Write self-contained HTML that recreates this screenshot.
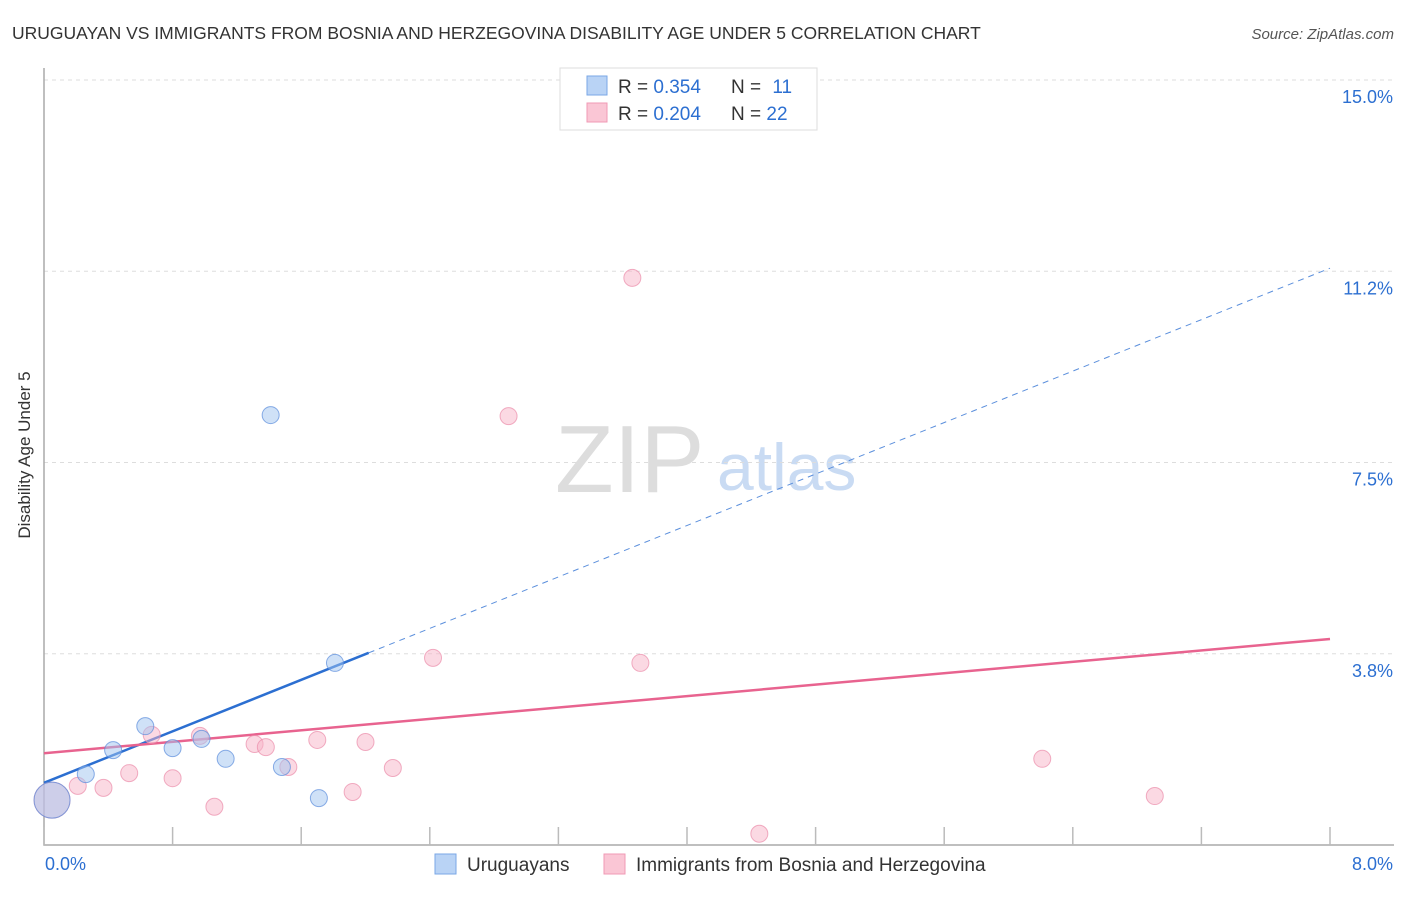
<!DOCTYPE html>
<html><head><meta charset="utf-8"><style>
body{margin:0;background:#fff;font-family:"Liberation Sans",sans-serif;}
svg text{font-family:"Liberation Sans",sans-serif;}
</style></head><body>
<svg width="1406" height="892" xmlns="http://www.w3.org/2000/svg">
<text x="12" y="39" font-size="17.5" fill="#333">URUGUAYAN VS IMMIGRANTS FROM BOSNIA AND HERZEGOVINA DISABILITY AGE UNDER 5 CORRELATION CHART</text>
<text x="1394" y="39" font-size="15" fill="#555" font-style="italic" text-anchor="end">Source: ZipAtlas.com</text>
<text x="30" y="455" font-size="17" fill="#333" text-anchor="middle" transform="rotate(-90 30 455)">Disability Age Under 5</text>
<text x="555" y="492" font-size="96" fill="#ddd" font-family="Liberation Serif">ZIP</text>
<text x="717" y="490" font-size="66" fill="#c9dbf3">atlas</text>
<g id="grid"></g><g id="axes"></g><g id="lines"></g><g id="pts"></g>
<g>
<rect x="560" y="68" width="257" height="62" fill="#fff" stroke="#ddd"/>
<rect x="587" y="76" width="20" height="19" fill="#b9d3f5" stroke="#7aa7e6"/>
<rect x="587" y="103" width="20" height="19" fill="#fac6d5" stroke="#f09ab5"/>
<text x="618" y="93" font-size="19" fill="#333">R = <tspan fill="#2c6fd1">0.354</tspan></text>
<text x="731" y="93" font-size="19" fill="#333">N = <tspan fill="#2c6fd1" dx="6">11</tspan></text>
<text x="618" y="120" font-size="19" fill="#333">R = <tspan fill="#2c6fd1">0.204</tspan></text>
<text x="731" y="120" font-size="19" fill="#333">N = <tspan fill="#2c6fd1">22</tspan></text>
</g>
<g>
<rect x="435" y="854" width="21" height="20" fill="#b9d3f5" stroke="#7aa7e6"/>
<text x="467" y="871" font-size="19" fill="#333">Uruguayans</text>
<rect x="604" y="854" width="21" height="20" fill="#fac6d5" stroke="#f09ab5"/>
<text x="636" y="871" font-size="19" fill="#333">Immigrants from Bosnia and Herzegovina</text>
</g>
</svg>
<script>
const xTicks=[0,0.8,1.6,2.4,3.2,4.0,4.8,5.6,6.4,7.2,8.0];
const yTicks=[3.75,7.5,11.25,15];
const yTickLabels=["3.8%","7.5%","11.2%","15.0%"];
const blueX=[0.05,0.26,0.43,0.63,0.80,0.98,1.13,1.41,1.48,1.71,1.81];
const blueY=[0.88,1.39,1.86,2.33,1.90,2.08,1.69,8.43,1.53,0.92,3.57];
const pinkX=[0.05,0.21,0.37,0.53,0.67,0.80,0.97,1.06,1.31,1.38,1.52,1.70,1.92,2.0,2.17,2.42,2.89,3.66,3.71,4.45,6.21,6.91];
const pinkY=[0.88,1.16,1.12,1.41,2.16,1.31,2.14,0.75,1.98,1.92,1.53,2.06,1.04,2.02,1.51,3.67,8.41,11.12,3.57,0.22,1.69,0.96];
const blueTrend=[1.22,11.31];
const pinkTrend=[1.80,4.04];
const NS='http://www.w3.org/2000/svg';
const X=v=>44+v/8*1286, Y=v=>845-v/15*765;
function mk(p,t,a){const e=document.createElementNS(NS,t);for(const k in a)e.setAttribute(k,a[k]);document.getElementById(p).appendChild(e);return e;}
yTicks.forEach((t,i)=>{
 const g=mk('grid','line',{x1:44,x2:1394,y1:Y(t),y2:Y(t),stroke:'#ddd','stroke-dasharray':'4 4'});
 
 
 const l=mk('grid','text',{x:1393,y:Y(t)+23,'font-size':18,fill:'#2c6fd1','text-anchor':'end'});
 l.textContent=yTickLabels[i];
 
 
});
const ax=mk('axes','path',{d:'M44 68V845H1394',fill:'none',stroke:'#aaa','stroke-width':1.5});


xTicks.forEach(t=>{const e=mk('axes','line',{x1:X(t),x2:X(t),y1:827,y2:845,stroke:'#bbb','stroke-width':1.5});
 
 });
const x0=mk('axes','text',{x:45,y:870,'font-size':18,fill:'#2c6fd1'});x0.textContent=xTicks[0].toFixed(1)+'%';


const x1=mk('axes','text',{x:1393,y:870,'font-size':18,fill:'#2c6fd1','text-anchor':'end'});x1.textContent=xTicks[xTicks.length-1].toFixed(1)+'%';


const bAt=v=>blueTrend[0]+(blueTrend[1]-blueTrend[0])*v/8;
const bs=mk('lines','line',{x1:X(0),y1:Y(bAt(0)),x2:X(2.02),y2:Y(bAt(2.02)),stroke:'#2c6fd1','stroke-width':2.5});


const bd=mk('lines','line',{x1:X(2.02),y1:Y(bAt(2.02)),x2:X(8),y2:Y(bAt(8)),stroke:'#5b8fdc','stroke-width':1,'stroke-dasharray':'6 5'});


const pl=mk('lines','line',{x1:X(0),y1:Y(pinkTrend[0]),x2:X(8),y2:Y(pinkTrend[1]),stroke:'#e8638f','stroke-width':2.5});


pinkX.forEach((x,i)=>{const c=mk('pts','circle',{cx:X(x),cy:Y(pinkY[i]),r:i==0?18:8.5,fill:'rgba(248,180,200,0.5)',stroke:'rgba(235,140,170,0.7)'});
 
 });
blueX.forEach((x,i)=>{const c=mk('pts','circle',{cx:X(x),cy:Y(blueY[i]),r:i==0?18:8.5,fill:'rgba(160,195,240,0.5)',stroke:'rgba(90,140,220,0.7)'});
 
 });
</script>
</body></html>
